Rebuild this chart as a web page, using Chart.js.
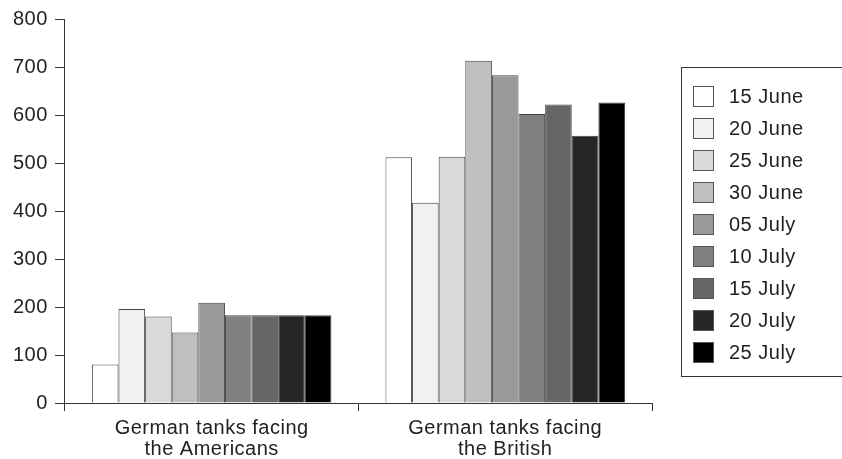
<!DOCTYPE html>
<html>
<head>
<meta charset="utf-8">
<script src="https://cdn.jsdelivr.net/npm/chart.js@4.4.1/dist/chart.umd.min.js"></script>
<style>
  html, body { margin: 0; padding: 0; background: #fff; }
</style>
</head>
<body>
<canvas id="tanksctr" width="842" height="459"></canvas>
<script>
// categories + series (one series per date)
const categories = [['German tanks facing', 'the Americans'], ['German tanks facing', 'the British']];
const dates = ['15 June', '20 June', '25 June', '30 June', '05 July', '10 July', '15 July', '20 July', '25 July'];
const facingAmericans = [80, 196, 180, 147, 209, 183, 183, 183, 183];
const facingBritish = [512, 417, 513, 713, 683, 602, 622, 557, 626];
const yTicks = [0, 100, 200, 300, 400, 500, 600, 700, 800];
const shades = ['#ffffff', '#f1f1f1', '#d9d9d9', '#bfbfbf', '#999999', '#808080', '#666666', '#262626', '#000000'];

const FONT = '"Liberation Sans", Arial, Helvetica, sans-serif';
const SPACING = '0.5px';

// slightly wider text, like the original typeface
const spacing = {
  id: 'spacing',
  beforeUpdate(chart) { chart.ctx.letterSpacing = SPACING; },
  beforeDraw(chart) { chart.ctx.letterSpacing = SPACING; }
};

// legend in a box at the right
const boxLegend = {
  id: 'boxLegend',
  afterDraw(chart) {
    const ctx = chart.ctx;
    ctx.save();
    ctx.letterSpacing = SPACING;
    ctx.lineWidth = 1;
    ctx.strokeStyle = '#333';
    ctx.strokeRect(681.5, 67.5, 200, 309);
    ctx.font = '20px ' + FONT;
    ctx.textBaseline = 'middle';
    chart.data.datasets.forEach((ds, i) => {
      const y = 86 + i * 32;
      ctx.fillStyle = ds.backgroundColor;
      ctx.fillRect(693, y, 21, 21);
      ctx.strokeStyle = '#555';
      ctx.strokeRect(693.5, y + 0.5, 20, 20);
      ctx.fillStyle = '#222';
      ctx.fillText(ds.label, 729, y + 11);
    });
    ctx.restore();
  }
};

const ctxTanks = document.getElementById('tanksctr').getContext('2d');
const tanksChart = new Chart(ctxTanks, {
  type: 'bar',
  data: {
    labels: categories,
    datasets: dates.map((d, i) => ({
      label: d,
      data: [facingAmericans[i], facingBritish[i]],
      backgroundColor: shades[i],
      borderColor: '#444',
      borderWidth: 1,
      categoryPercentage: 0.816,
      barPercentage: 1
    }))
  },
  options: {
    responsive: false,
    animation: false,
    layout: { padding: { left: 6, right: 190, top: 15, bottom: -8 } },
    plugins: {
      legend: { display: false },
      tooltip: { enabled: false }
    },
    scales: {
      x: {
        grid: {
          drawOnChartArea: false,
          tickLength: 8,
          color: (c) => (c.index === categories.length ? 'rgba(0,0,0,0)' : '#333'),
          tickColor: (c) => (c.index === categories.length ? 'rgba(0,0,0,0)' : '#333')
        },
        border: { color: '#333', width: 1 },
        ticks: {
          color: '#222',
          padding: 7,
          font: { family: FONT, size: 20, lineHeight: 1.05 }
        }
      },
      y: {
        min: yTicks[0],
        max: yTicks[yTicks.length - 1],
        afterBuildTicks: (axis) => { axis.ticks = yTicks.map(v => ({ value: v })); },
        grid: { drawOnChartArea: false, tickLength: 10, tickColor: '#333' },
        border: { color: '#333', width: 1 },
        ticks: {
          color: '#222',
          padding: 7,
          font: { family: FONT, size: 20 }
        }
      }
    }
  },
  plugins: [spacing, boxLegend]
});
</script>
</body>
</html>
